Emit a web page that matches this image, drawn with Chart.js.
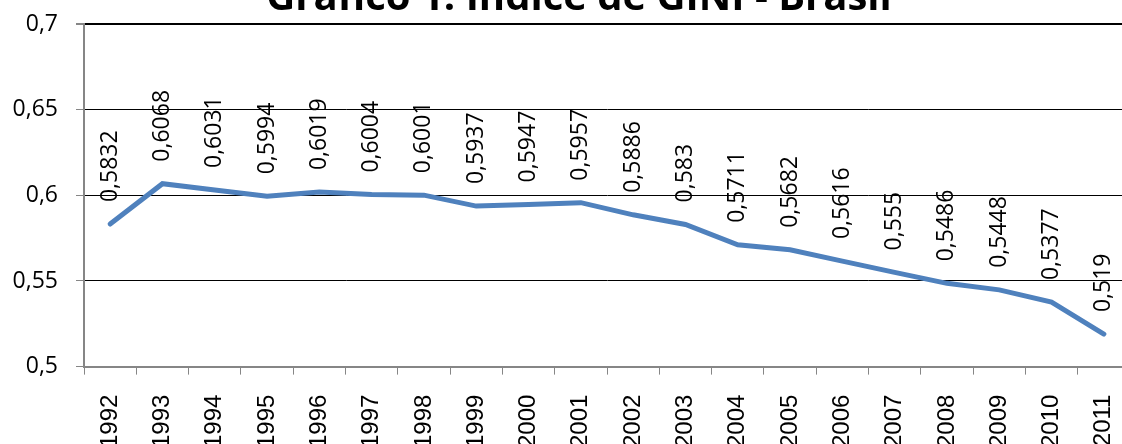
<!DOCTYPE html>
<html>
<head>
<meta charset="utf-8">
<script src="https://cdn.jsdelivr.net/npm/chart.js@4/dist/chart.umd.min.js"></script>
<style>
  html, body { margin: 0; padding: 0; background: #fff; }
  #frame { position: relative; width: 1122px; height: 444px; overflow: hidden; }
  #box { position: absolute; left: 0; top: -30px; width: 1158px; height: 498px; }
</style>
</head>
<body>
<div id="frame"><div id="box"><canvas id="gini"></canvas></div></div>
<script>
// years and Gini values
var years = ['1992', '1993', '1994', '1995', '1996', '1997', '1998', '1999', '2000', '2001',
             '2002', '2003', '2004', '2005', '2006', '2007', '2008', '2009', '2010', '2011'];
var gini = [0.5832, 0.6068, 0.6031, 0.5994, 0.6019, 0.6004, 0.6001, 0.5937, 0.5947, 0.5957,
            0.5886, 0.583, 0.5711, 0.5682, 0.5616, 0.555, 0.5486, 0.5448, 0.5377, 0.519];
var yMin = 0.5, yMax = 0.7, yStep = 0.05;

function comma(v) {
    return String(Math.round(v * 10000) / 10000).replace('.', ',');
}

// value labels, written upward above each point
var valueLabels = {
    id: 'valueLabels',
    afterDatasetsDraw: function(chart) {
        var ctx = chart.ctx;
        var meta = chart.getDatasetMeta(0);
        ctx.save();
        ctx.font = '23px "Open Sans"';
        ctx.fillStyle = '#000';
        ctx.textAlign = 'left';
        ctx.textBaseline = 'middle';
        meta.data.forEach(function(pt, i) {
            ctx.save();
            ctx.translate(pt.x, pt.y - 22);
            ctx.rotate(-Math.PI / 2);
            ctx.fillText(comma(gini[i]), 0, 0);
            ctx.restore();
        });
        ctx.restore();
    }
};

new Chart(document.getElementById('gini'), {
    type: 'line',
    data: {
        labels: years,
        datasets: [{
            data: gini,
            borderColor: '#4F81BD',
            borderWidth: 5,
            borderCapStyle: 'round',
            pointRadius: 0,
            tension: 0
        }]
    },
    options: {
        responsive: true,
        maintainAspectRatio: false,
        animation: false,
        layout: { padding: 0 },
        plugins: {
            legend: { display: false },
            tooltip: { enabled: false },
            title: {
                display: true,
                text: 'Gráfico 1: Índice de GINI - Brasil',
                color: '#000',
                font: { family: '"Open Sans"', size: 40, weight: 'bold', lineHeight: 1.2 },
                padding: { top: 5, bottom: 1 }
            }
        },
        scales: {
            x: {
                offset: true,
                afterFit: function(scale) {
                    // plot stops 28px short of the canvas edge; title stays centred on the full width
                    scale.paddingLeft = 0;
                    scale.paddingRight = 28;
                },
                grid: {
                    offset: true,
                    drawOnChartArea: false,
                    drawTicks: true,
                    tickLength: 8,
                    tickColor: '#868686'
                },
                border: { color: '#868686', width: 2 },
                ticks: {
                    color: '#000',
                    font: { family: '"Liberation Sans"', size: 24 },
                    minRotation: 90,
                    maxRotation: 90,
                    padding: 20,
                    autoSkip: false
                }
            },
            y: {
                min: yMin,
                max: yMax,
                afterFit: function(scale) { scale.width = 84; },
                grid: {
                    color: '#000',
                    lineWidth: function(c) { return c.tick && c.tick.value === yMax ? 2 : 1; },
                    tickLength: 8,
                    tickColor: '#868686'
                },
                border: { color: '#868686', width: 2 },
                ticks: {
                    stepSize: yStep,
                    color: '#000',
                    padding: 18,
                    font: { family: '"Open Sans"', size: 23 },
                    callback: function(v) { return comma(v); }
                }
            }
        }
    },
    plugins: [valueLabels]
});
</script>
</body>
</html>
